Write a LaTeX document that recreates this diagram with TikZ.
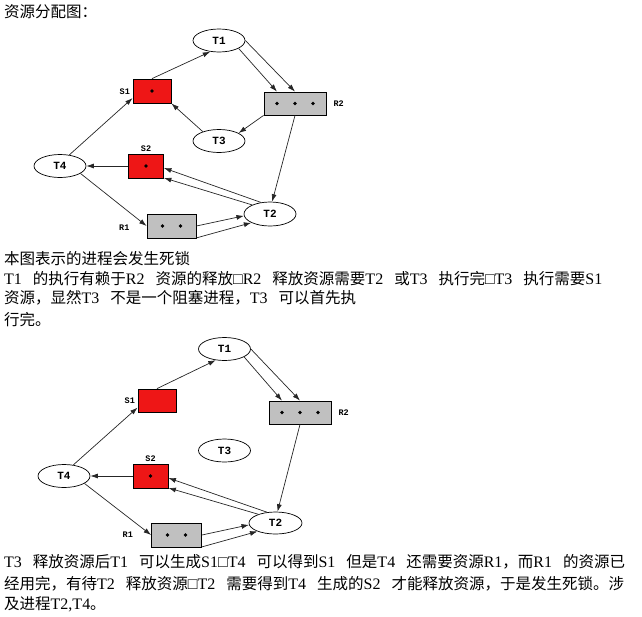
\documentclass[tikz,border=0pt]{standalone}
\usepackage{fontspec}
\setmainfont{Liberation Serif}
\newfontfamily\cjk{Noto Sans CJK SC}
\newfontfamily\lblfont{Liberation Mono}
\usetikzlibrary{shapes.geometric,arrows.meta}
\definecolor{boxred}{RGB}{238,22,22}
\definecolor{boxgray}{RGB}{192,192,192}
\newcommand\lt[1]{{\rmfamily\fontsize{16}{18}\selectfont #1}}
\newcommand\gp{\hspace{11pt}}
\newcommand\commonedges[1]{%
  \draw[arr] (#1S1.north) -- (#1T1.232);
  \draw[arr] (#1T1.-22) -- ([xshift=-18pt]#1R2.north);
  \draw[arr] (#1T1.east) -- (#1R2.north);
  \draw[arr] (#1R2.south) -- (#1T2.80);
  \draw[arr] (#1T4.50) -- (#1S1.200);
  \draw[arr] (#1S2.west) -- (#1T4.east);
  \draw[arr] (#1T2.128) -- ([yshift=-2pt]#1S2.east);
  \draw[arr] (#1T2.153) -- ([yshift=0.5pt]#1S2.south east);
  \draw[arr] (#1T4.-20) -- (#1R1.west);
  \draw[arr] (#1R1.east) -- (#1T2.184);
  \draw[arr] ([yshift=0.5pt]#1R1.south east) -- (#1T2.205);
}
\begin{document}
\begin{tikzpicture}[x=1pt,y=-1pt,
  ell/.style={draw,line width=0.7pt,ellipse,minimum width=52pt,minimum height=23pt,inner sep=0pt,fill=white,
    font=\lblfont\bfseries\fontsize{11}{12}\selectfont},
  rbox/.style={draw,line width=0.8pt,fill=boxred,inner sep=0pt},
  gbox/.style={draw,line width=0.8pt,fill=boxgray,inner sep=0pt},
  lbl/.style={font=\lblfont\bfseries\fontsize{8.5}{9}\selectfont,inner sep=0pt},
  txt/.style={anchor=base west,inner sep=0pt,font=\cjk\fontsize{15.5}{18}\selectfont},
  arr/.style={line width=0.7pt,draw=black!85,-{Latex[length=7.5pt,width=5pt]}},
  dot/.style={fill=black}]
\useasboundingbox (0,0) rectangle (642,616);

% ---------- texts ----------
\node[txt] (title) at (4,17.5) {资源分配图：};
\node[txt] (p1) at (4,264) {本图表示的进程会发生死锁};
\node[txt] (p2) at (4,284.5) {\lt{T1}\gp 的执行有赖于\lt{R2}\gp 资源的释放\lt{□R2}\gp 释放资源需要\lt{T2}\gp 或\lt{T3}\gp 执行完\lt{□T3}\gp 执行需要\lt{S1}};
\node[txt] (p3) at (4,303.5) {资源，显然\lt{T3}\gp 不是一个阻塞进程，\lt{T3}\gp 可以首先执};
\node[txt] (p4) at (4,325) {行完。};
\node[txt] (q1) at (4,567.5) {\lt{T3}\gp 释放资源后\lt{T1}\gp 可以生成\lt{S1□T4}\gp 可以得到\lt{S1}\gp 但是\lt{T4}\gp 还需要资源\lt{R1}，而\lt{R1}\gp 的资源已};
\node[txt] (q2) at (4,589) {经用完，有待\lt{T2}\gp 释放资源\lt{□T2}\gp 需要得到\lt{T4}\gp 生成的\lt{S2}\gp 才能释放资源，于是发生死锁。涉};
\node[txt] (q3) at (4,609.5) {及进程\lt{T2,T4}。};

% ---------- diagram 1 ----------
\node[ell] (aT1) at (219,40.5) {T1};
\node[ell] (aT3) at (219,141) {T3};
\node[ell] (aT4) at (60,166) {T4};
\node[ell,minimum width=52pt,minimum height=24pt] (aT2) at (270,214) {T2};
\node[rbox,minimum width=38pt,minimum height=24pt] (aS1) at (152,91) {};
\node[gbox,minimum width=62pt,minimum height=23pt] (aR2) at (295,103.5) {};
\node[rbox,minimum width=35pt,minimum height=24pt] (aS2) at (146,166) {};
\node[gbox,minimum width=49pt,minimum height=24pt] (aR1) at (171.5,226) {};
\node[lbl,anchor=east] (aS1l) at ([xshift=-2.5pt,yshift=-1pt]aS1.west) {S1};
\node[lbl,anchor=west] (aR2l) at ([xshift=7pt]aR2.east) {R2};
\node[lbl,anchor=south] (aS2l) at ([yshift=2pt]aS2.north) {S2};
\node[lbl,anchor=east] (aR1l) at ([xshift=-17pt,yshift=-2pt]aR1.west) {R1};
\fill[dot] (aS1.center) circle (1.8pt);
\fill[dot] (aS2.center) circle (1.8pt);
\fill[dot] ([xshift=-18pt]aR2.center) circle (1.8pt);
\fill[dot] (aR2.center) circle (1.8pt);
\fill[dot] ([xshift=18pt]aR2.center) circle (1.8pt);
\fill[dot] ([xshift=-9pt]aR1.center) circle (1.8pt);
\fill[dot] ([xshift=9pt]aR1.center) circle (1.8pt);
\commonedges{a}
\draw[arr] (aR2.south west) -- (aT3.22);
\draw[arr] (aT3.150) -- (aS1.south east);

% ---------- diagram 2 ----------
\node[ell] (bT1) at (224.5,349) {T1};
\node[ell] (bT3) at (224.5,450.5) {T3};
\node[ell] (bT4) at (64,476) {T4};
\node[ell,minimum width=53pt,minimum height=22pt] (bT2) at (275.5,523) {T2};
\node[rbox,minimum width=38pt,minimum height=23pt] (bS1) at (157,400.5) {};
\node[gbox,minimum width=62pt,minimum height=23pt] (bR2) at (300,412.5) {};
\node[rbox,minimum width=35pt,minimum height=24pt] (bS2) at (150.5,476) {};
\node[gbox,minimum width=50pt,minimum height=24pt] (bR1) at (176.5,535) {};
\node[lbl,anchor=east] (bS1l) at ([xshift=-2.5pt]bS1.west) {S1};
\node[lbl,anchor=west] (bR2l) at ([xshift=7pt]bR2.east) {R2};
\node[lbl,anchor=south] (bS2l) at ([yshift=2pt]bS2.north) {S2};
\node[lbl,anchor=east] (bR1l) at ([xshift=-18pt]bR1.west) {R1};
\fill[dot] (bS2.center) circle (1.8pt);
\fill[dot] ([xshift=-18pt]bR2.center) circle (1.8pt);
\fill[dot] (bR2.center) circle (1.8pt);
\fill[dot] ([xshift=18pt]bR2.center) circle (1.8pt);
\fill[dot] ([xshift=-9pt]bR1.center) circle (1.8pt);
\fill[dot] ([xshift=9pt]bR1.center) circle (1.8pt);
\commonedges{b}
\end{tikzpicture}
\end{document}
